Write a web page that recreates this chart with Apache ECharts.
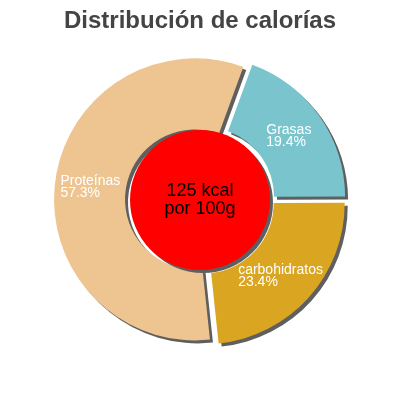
<!DOCTYPE html>
<html>
<head>
<meta charset="utf-8">
<script src="https://cdn.jsdelivr.net/npm/echarts@6/dist/echarts.min.js"></script>
<style>
  html, body { margin: 0; padding: 0; background: #fff; }
  #chart { width: 400px; height: 400px; }
</style>
</head>
<body>
<div id="chart"></div>
<script>
// slices, clockwise from the top-right
const names = ['Grasas', 'carbohidratos', 'Proteínas']
const percents = [19.4, 23.4, 57.3]
const colors = ['#7AC5CD', '#DAA520', '#EEC591']
const centerText = ['125 kcal', 'por 100g']
const title = 'Distribución de calorías'

// small nudges so the labels sit where the original put them
const labelNudge = [[-4, 1], [-4, 0], [3, 1]]

const shadow = {
  shadowColor: '#5f5f5f',
  shadowBlur: 0,
  shadowOffsetX: 3,
  shadowOffsetY: 3
}

const chart = echarts.init(document.getElementById('chart'))

chart.setOption({
  animation: false,
  title: {
    text: title,
    left: 'center',
    top: 4,
    textStyle: { fontFamily: 'Liberation Sans', fontSize: 24, fontWeight: 'bold', color: '#444' }
  },
  series: [
    {
      type: 'pie',
      silent: true,
      center: ['50%', '50%'],
      radius: [70, 141],
      startAngle: 70,
      clockwise: true,
      selectedMode: 'multiple',
      selectedOffset: 5,
      emphasis: { disabled: true },
      itemStyle: Object.assign({ borderWidth: 0 }, shadow),
      label: {
        position: 'inside',
        formatter: p => '{t|' + p.name + '}\n{t|' + p.value + '%}',
        rich: {
          t: { align: 'left', color: '#fff', fontFamily: 'Liberation Sans', fontSize: 14, lineHeight: 12 }
        }
      },
      labelLayout: p => ({ dx: labelNudge[p.dataIndex][0], dy: labelNudge[p.dataIndex][1] }),
      labelLine: { show: false },
      data: names.map((n, i) => ({
        name: n,
        value: percents[i],
        selected: true,
        itemStyle: { color: colors[i] },
        select: { itemStyle: { color: colors[i] } }
      }))
    },
    {
      type: 'pie',
      silent: true,
      center: ['50%', '50%'],
      radius: [0, 70],
      emphasis: { disabled: true },
      itemStyle: Object.assign({ color: '#ff0000' }, shadow),
      label: {
        position: 'center',
        formatter: centerText.join('\n'),
        color: '#000',
        fontFamily: 'Liberation Sans',
        fontSize: 18,
        lineHeight: 18
      },
      labelLine: { show: false },
      data: [{ name: 'kcal', value: 1 }]
    }
  ]
})
</script>
</body>
</html>
